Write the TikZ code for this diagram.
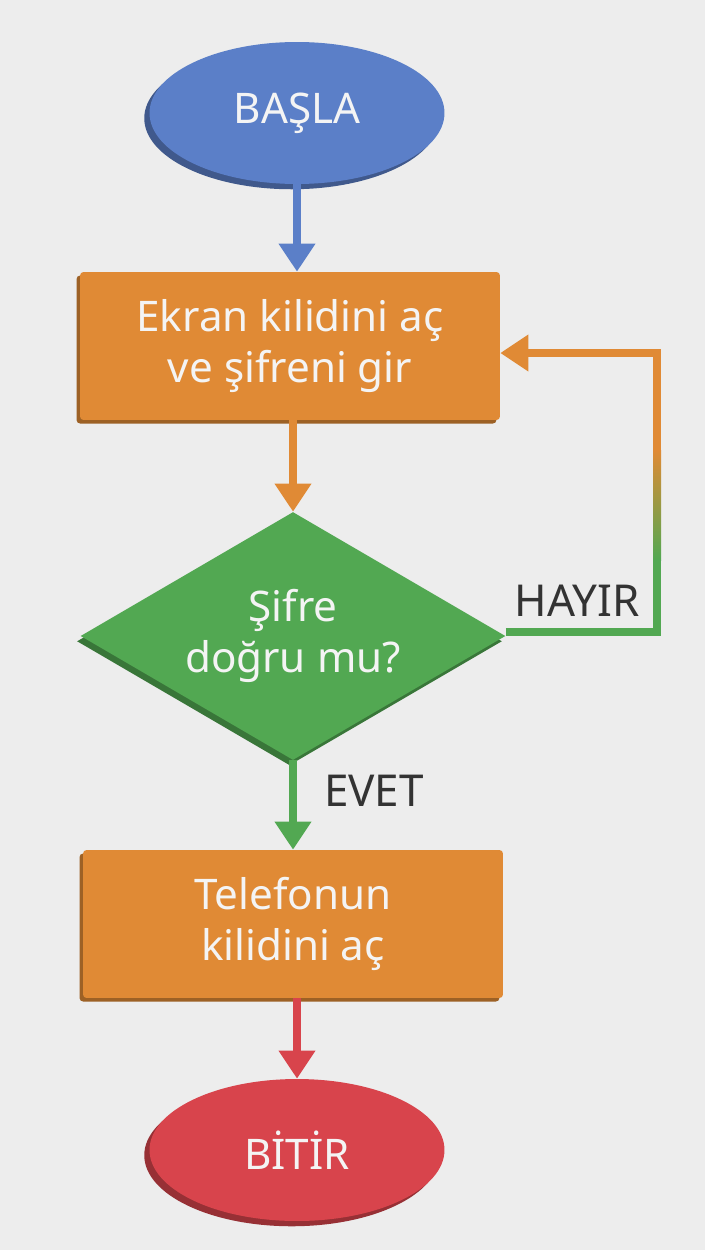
\documentclass[tikz,border=0pt]{standalone}
\usepackage{fontspec}
\setmainfont{Noto Sans}
\usetikzlibrary{arrows.meta,shapes.geometric,shadows,calc}
\definecolor{bgC}{HTML}{EDEDED}
\definecolor{blueC}{HTML}{5B7FC8}
\definecolor{orangeC}{HTML}{E08A35}
\definecolor{greenC}{HTML}{52A852}
\definecolor{redC}{HTML}{D8444C}
\definecolor{labelC}{HTML}{333333}
\definecolor{txtC}{HTML}{F4F4F4}
\tikzset{
  base/.style={text=txtC, font=\fontsize{24}{29}\selectfont, align=center, inner sep=0pt},
  term/.style={base, ellipse, minimum width=5.9cm, minimum height=2.84cm},
  procbox/.style={base, rectangle, rounded corners=2pt, minimum width=8.4cm, minimum height=2.96cm},
  decis/.style={base, diamond, aspect=1.71, minimum width=8.5cm, minimum height=4.96cm},
  conn/.style={line width=4.5pt, line join=miter, -{Triangle[width=20pt,length=16pt]}},
  plain/.style={line width=4.5pt, line join=miter},
  lbl/.style={text=labelC, font=\fontsize{25}{30}\selectfont, inner sep=0pt},
}
\begin{document}
\begin{tikzpicture}[x=0.02cm,y=-0.02cm]
\useasboundingbox[fill=bgC] (0,0) rectangle (705,1250);
\node[term, fill=blueC, general shadow={fill=blueC!70!black, shadow xshift=-3pt, shadow yshift=-3pt}] (start) at (297,113) {BAŞLA};
\node[procbox, fill=orangeC, general shadow={fill=orangeC!70!black, shadow xshift=-2pt, shadow yshift=-2pt}] (box1) at (290,346) {Ekran kilidini aç\\ve şifreni gir};
\node[decis, fill=greenC, general shadow={fill=greenC!70!black, shadow xshift=-2pt, shadow yshift=-3pt}] (dec) at (293,636) {Şifre\\doğru mu?};
\node[procbox, fill=orangeC, general shadow={fill=orangeC!70!black, shadow xshift=-2pt, shadow yshift=-2pt}] (box2) at (293,924) {Telefonun\\kilidini aç};
\node[term, fill=redC, general shadow={fill=redC!70!black, shadow xshift=-3pt, shadow yshift=-3pt}] (stop) at (297,1150) {BİTİR};

\node[lbl] (hayir) at (577,601) {HAYIR};
\node[lbl] (evet) at (374,791) {EVET};

\coordinate (c1) at (657,632);
\coordinate (c2) at (657,353);
\coordinate (m1) at (657,560);
\coordinate (m2) at (657,450);

\draw[conn, blueC] (start.south) -- (box1.north -| start.south);
\draw[conn, orangeC] (box1.south -| dec.north) -- (dec.north);
\draw[conn, greenC] (dec.south) -- (box2.north -| dec.south);
\draw[conn, redC] (box2.south -| stop.north) -- (stop.north);

\draw[plain, greenC] (dec.east |- c1) -- (c1) -- (m1);
\shade[top color=orangeC, bottom color=greenC] ($(m2)+(-4,0)$) rectangle ($(m1)+(4,0)$);
\draw[conn, orangeC] (m2) -- (c2) -- (box1.east |- c2);
\end{tikzpicture}
\end{document}
